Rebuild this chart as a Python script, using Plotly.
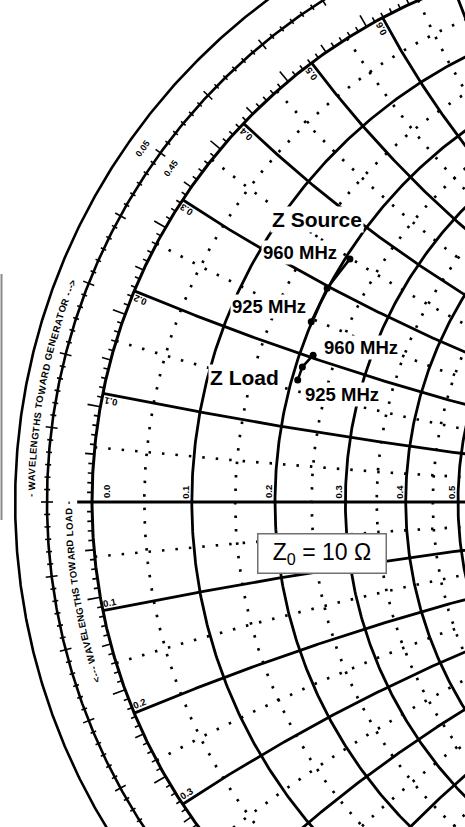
import numpy as np
import plotly.graph_objects as go

# ---------------- data ----------------
Z0 = 10.0                                  # ohm, normalising impedance
freq_MHz = [925, 942.5, 960]
src_R = [1.99, 1.99, 2.06]                 # Z Source, ohm
src_X = [2.46, 2.97, 3.49]
load_R = [2.08, 2.09, 2.18]                # Z Load, ohm
load_X = [1.65, 1.84, 2.04]

r_major = [0.1, 0.2, 0.3, 0.4, 0.5, 0.6, 0.7, 0.8, 0.9, 1.0, 1.2, 1.4, 1.6, 1.8, 2.0, 3.0, 4.0, 5.0, 10.0, 20.0]
r_minor = [0.05, 0.15, 0.25, 0.35, 0.45, 0.55]
x_major = [0.1, 0.2, 0.3, 0.4, 0.5, 0.6, 0.7, 0.8, 0.9, 1.0, 1.2, 1.4, 1.6, 1.8, 2.0, 3.0, 4.0, 5.0, 10.0, 20.0]
x_minor = [0.05, 0.15, 0.25, 0.35, 0.45, 0.55, 0.65, 0.75, 0.85, 0.95]
r_tick_labels = [0.0, 0.1, 0.2, 0.3, 0.4, 0.5]
x_tick_labels_up = [0.1, 0.2, 0.3, 0.4, 0.5, 0.6]
x_tick_labels_dn = [0.1, 0.2, 0.3]
wl_label_pos = 0.05                        # wavelengths
wl_label_gen = "0.05"
wl_label_load = "0.45"
text_gen = "- WAVELENGTHS TOWARD GENERATOR --->"
text_load = "<--- WAVELENGTHS TOWARD LOAD -"

# ---------------- geometry of the view ----------------
W, H = 465, 827
S = 549.0            # px per unit reflection coefficient
CX, CY = 641.0, 502.0
XR = [-CX / S, (W - CX) / S]
YR = [(CY - H) / S, CY / S]
R_MID = 1.082
R_OUT = 1.140
FONT = "Liberation Sans, Arial, sans-serif"


def gam(z):
    return (z - 1) / (z + 1)


def join(paths):
    xs, ys = [], []
    for px, py in paths:
        xs += list(px) + [None]
        ys += list(py) + [None]
    return xs, ys


def r_circle(r):
    t = np.linspace(0, 2 * np.pi, 900)
    c, rad = r / (1 + r), 1 / (1 + r)
    return c + rad * np.cos(t), rad * np.sin(t)


def x_arc(x):
    t = np.linspace(0, np.pi / 2 * 0.9995, 700)
    g = gam(np.tan(t) + 1j * x)
    return g.real, g.imag


fig = go.Figure()


def add_lines(paths, width, dash=None, color="black"):
    xs, ys = join(paths)
    fig.add_trace(go.Scatter(x=xs, y=ys, mode="lines",
                             line=dict(color=color, width=width, dash=dash),
                             hoverinfo="skip", showlegend=False))


# dotted minor grid
minor = [r_circle(r) for r in r_minor]
for x in x_minor:
    minor.append(x_arc(x))
    minor.append(x_arc(-x))
add_lines(minor, 2.7, dash="2.5px,11px")

# solid major grid
major = [r_circle(r) for r in r_major]
for x in x_major:
    major.append(x_arc(x))
    major.append(x_arc(-x))
add_lines(major, 2.8)

# real axis
add_lines([(np.array([-1.027, 1.0]), np.array([0.0, 0.0]))], 3.0)

# unit circle and outer rings
t = np.linspace(0, 2 * np.pi, 1500)
add_lines([(np.cos(t), np.sin(t))], 3.0)
add_lines([(R_MID * np.cos(t), R_MID * np.sin(t)),
           (R_OUT * np.cos(t), R_OUT * np.sin(t))], 2.6)

# ticks on unit circle (every degree)
ticks = []
for d in range(90, 271):
    L = 13 if d % 10 == 0 else (9 if d % 5 == 0 else 5)
    a = np.radians(d)
    rr = np.array([1.0, 1.0 + L / S])
    ticks.append((rr * np.cos(a), rr * np.sin(a)))
add_lines(ticks, 1.6)

# ticks on wavelength ring
wt = []
for k in range(-150, 151):
    lam = k / 600.0
    a = np.radians(180 - 720 * lam)
    L = 6 if k % 6 == 0 else 3
    rr = np.array([R_MID - L / S, R_MID + L / S])
    wt.append((rr * np.cos(a), rr * np.sin(a)))
add_lines(wt, 1.6)

# ---------------- data traces ----------------
gs = gam((np.array(src_R) + 1j * np.array(src_X)) / Z0)
gl = gam((np.array(load_R) + 1j * np.array(load_X)) / Z0)
for g, name in [(gs, "Z Source"), (gl, "Z Load")]:
    fig.add_trace(go.Scatter(x=g.real, y=g.imag, mode="lines+markers", name=name,
                             line=dict(color="black", width=2.6),
                             marker=dict(color="black", size=7),
                             text=[f"{f} MHz" for f in freq_MHz],
                             showlegend=False))

ann = []
small = dict(family=FONT, size=9.5, color="black")

# resistance labels on the real axis
for r in r_tick_labels:
    gx = (r - 1) / (r + 1)
    dx = 14 if r == 0 else -7
    ann.append(dict(x=gx + dx / S, y=10 / S, text=f"<b>{r:.1f}</b>", textangle=-90,
                    showarrow=False, font=small))

# reactance labels at the unit circle
for x in x_tick_labels_up:
    th = 180 - 2 * np.degrees(np.arctan(x))
    th2 = np.radians(th + 0.7)
    rho = 0.984
    ann.append(dict(x=rho * np.cos(th2), y=rho * np.sin(th2), text=f"<b>{x:.1f}</b>",
                    textangle=-th, showarrow=False, font=small))
for x in x_tick_labels_dn:
    th = 180 + 2 * np.degrees(np.arctan(x))
    th2 = np.radians(th - 0.7)
    rho = 0.984
    ann.append(dict(x=rho * np.cos(th2), y=rho * np.sin(th2), text=f"<b>{x:.1f}</b>",
                    textangle=180 - th, showarrow=False, font=small))

# wavelength ring labels
th = 180 - 720 * wl_label_pos
for txt, rr in [(wl_label_gen, 1.112), (wl_label_load, 1.050)]:
    a = np.radians(th + 0.6)
    ann.append(dict(x=rr * np.cos(a), y=rr * np.sin(a), text=f"<b>{txt}</b>", textangle=90 - th,
                    showarrow=False, font=dict(family=FONT, size=9, color="black")))

# curved ring texts, one character at a time
CW = {"W": .944, "A": .722, "V": .667, "E": .667, "L": .611, "N": .722, "G": .778,
      "T": .611, "H": .722, "S": .667, "O": .778, "R": .722, "D": .722, " ": .3,
      "-": .36, ">": .584, "<": .584}


def arc_text(text, th0, th1, rad, size):
    w = np.array([CW.get(c, 0.6) for c in text])
    cen = np.cumsum(w) - w / 2
    frac = cen / w.sum()
    for c, f in zip(text, frac):
        if c == " ":
            continue
        thc = th0 + (th1 - th0) * f
        a = np.radians(thc)
        ann.append(dict(x=rad * np.cos(a), y=rad * np.sin(a), text=f"<b>{c}</b>", textangle=90 - thc,
                        showarrow=False, font=dict(family=FONT, size=size, color="black")))


arc_text(text_gen, 179.6, 158.6, 1.111, 9.5)
arc_text(text_load, 198.4, 179.9, 1.043, 9.5)

# point labels
lab = dict(showarrow=False, bgcolor="white", borderpad=1)
big = dict(family=FONT, size=21, color="black")
mid = dict(family=FONT, size=18.5, color="black")
ann += [
    dict(x=gs.real[2], y=gs.imag[2], xshift=-33, yshift=39, text="<b>Z Source</b>", font=big, **lab),
    dict(x=gs.real[2], y=gs.imag[2], xshift=-50, yshift=6, text=f"<b>{freq_MHz[2]} MHz</b>", font=mid, **lab),
    dict(x=gs.real[0], y=gs.imag[0], xshift=-42, yshift=15, text=f"<b>{freq_MHz[0]} MHz</b>", font=mid, **lab),
    dict(x=gl.real[2], y=gl.imag[2], xshift=48, yshift=8, text=f"<b>{freq_MHz[2]} MHz</b>", font=mid, **lab),
    dict(x=gl.real[0], y=gl.imag[0], xshift=44, yshift=-14, text=f"<b>{freq_MHz[0]} MHz</b>", font=mid, **lab),
    dict(x=gl.real[0], y=gl.imag[0], xshift=-53, yshift=3, text="<b>Z Load</b>", font=big, **lab),
]

# Z0 box
ann.append(dict(xref="paper", yref="paper", x=322 / W, y=1 - 553.5 / H,
                xanchor="center", yanchor="middle",
                text=f"Z<sub>0</sub> = {Z0:.0f} Ω", showarrow=False,
                font=dict(family=FONT, size=23, color="black"),
                bgcolor="white", bordercolor="#707070", borderwidth=1.5,
                borderpad=3, width=121, height=32))

fig.update_layout(
    width=W, height=H, margin=dict(l=0, r=0, t=0, b=0),
    paper_bgcolor="white", plot_bgcolor="white",
    xaxis=dict(range=XR, visible=False, fixedrange=True),
    yaxis=dict(range=YR, visible=False, fixedrange=True),
    annotations=ann,
    shapes=[dict(type="line", xref="paper", yref="paper", x0=1.5 / W, x1=1.5 / W,
                 y0=1 - 520 / H, y1=1 - 274 / H, line=dict(color="#8a8a8a", width=2))],
    showlegend=False,
)

fig.write_html("out.html", config={"displayModeBar": False},
               post_script="document.body.style.margin='0px';")
